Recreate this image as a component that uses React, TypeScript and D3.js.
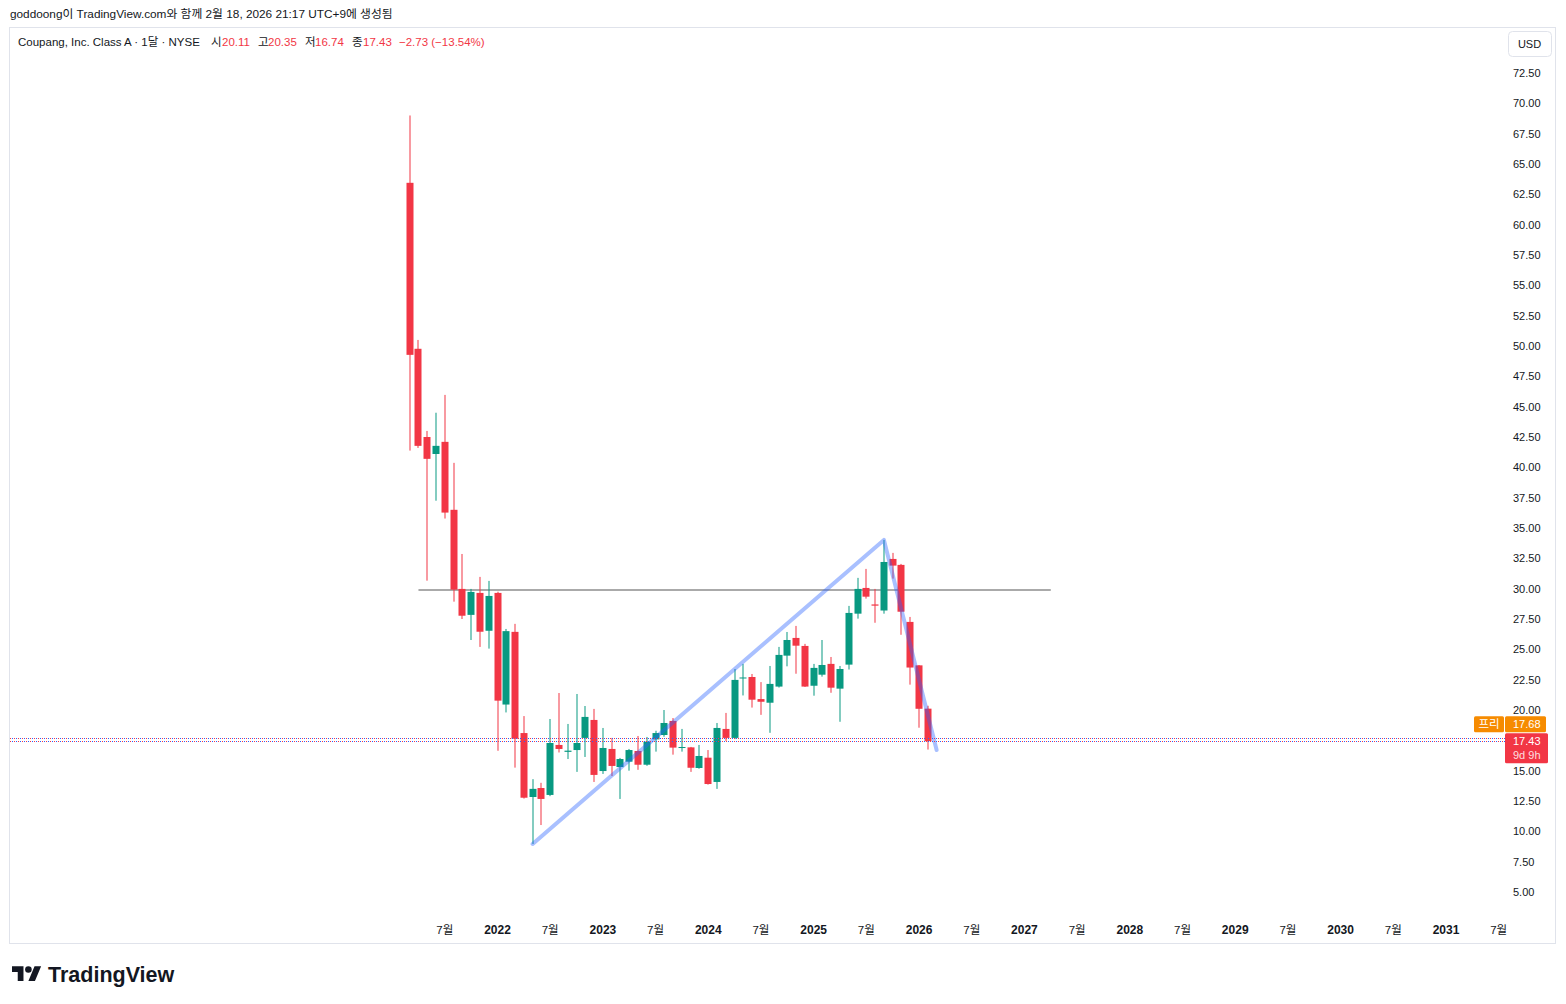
import React, { useEffect, useRef } from 'react';
import * as d3 from 'd3';

// 월봉 (2021-03 ~ 2026-02)
const months = [
  '2021-03', '2021-04', '2021-05', '2021-06', '2021-07', '2021-08', '2021-09', '2021-10', '2021-11', '2021-12',
  '2022-01', '2022-02', '2022-03', '2022-04', '2022-05', '2022-06', '2022-07', '2022-08', '2022-09', '2022-10', '2022-11', '2022-12',
  '2023-01', '2023-02', '2023-03', '2023-04', '2023-05', '2023-06', '2023-07', '2023-08', '2023-09', '2023-10', '2023-11', '2023-12',
  '2024-01', '2024-02', '2024-03', '2024-04', '2024-05', '2024-06', '2024-07', '2024-08', '2024-09', '2024-10', '2024-11', '2024-12',
  '2025-01', '2025-02', '2025-03', '2025-04', '2025-05', '2025-06', '2025-07', '2025-08', '2025-09', '2025-10', '2025-11', '2025-12',
  '2026-01', '2026-02',
];
const opens = [
  63.45, 49.77, 42.5, 41.1, 42.1, 36.5, 29.98, 27.84, 29.65, 26.53,
  29.65, 20.45, 26.44, 18.1, 12.83, 13.57, 13.0, 17.12, 16.55, 16.7, 17.7, 19.18,
  14.97, 16.79, 15.3, 15.74, 16.62, 15.49, 17.58, 17.94, 19.1, 16.88, 16.92, 15.22,
  16.07, 14.07, 18.44, 17.7, 22.6, 22.72, 20.9, 20.6, 21.93, 24.48, 25.94, 25.28,
  22.0, 22.91, 23.8, 21.76, 23.74, 27.94, 30.06, 28.7, 28.2, 32.45, 31.96, 27.26,
  23.68, 20.11,
];
const highs = [
  69.0, 50.5, 43.0, 44.5, 45.97, 40.37, 32.86, 29.98, 30.97, 30.64,
  29.75, 26.68, 27.1, 19.5, 14.3, 14.0, 19.26, 21.4, 18.85, 21.32, 20.33, 20.09,
  18.52, 17.7, 16.05, 16.79, 17.86, 17.78, 18.29, 20.0, 19.34, 18.44, 16.96, 17.12,
  16.7, 18.93, 19.76, 23.38, 23.8, 22.97, 22.3, 23.63, 25.2, 26.43, 26.93, 25.45,
  23.8, 25.77, 24.37, 23.63, 28.58, 30.89, 31.63, 29.98, 34.02, 32.95, 32.04, 27.67,
  23.71, 20.35,
];
const lows = [
  41.38, 41.6, 30.66, 37.25, 35.78, 28.93, 27.5, 25.77, 25.2, 25.06,
  16.64, 19.8, 15.25, 12.7, 8.96, 10.52, 12.9, 16.5, 15.96, 14.9, 16.13, 14.07,
  14.73, 14.56, 12.67, 15.0, 15.07, 15.4, 16.57, 17.8, 16.32, 16.57, 14.9, 15.16,
  13.85, 13.5, 17.45, 17.6, 21.2, 20.2, 19.6, 18.12, 21.85, 23.6, 22.99, 21.9,
  21.18, 22.75, 21.42, 19.03, 23.34, 27.53, 29.18, 27.19, 27.94, 30.83, 26.2, 22.09,
  18.54, 16.74,
];
const closes = [
  49.27, 41.77, 40.7, 41.77, 36.27, 29.92, 27.77, 29.73, 26.45, 29.4,
  20.77, 26.5, 17.63, 12.77, 13.5, 12.67, 17.28, 16.79, 16.65, 17.28, 19.43, 14.65,
  16.87, 15.39, 15.96, 16.7, 15.49, 17.39, 18.1, 18.93, 16.9, 16.95, 15.24, 16.21,
  13.9, 18.52, 17.7, 22.48, 22.68, 20.85, 20.68, 22.15, 24.54, 25.77, 25.3, 21.93,
  23.47, 23.71, 21.84, 23.38, 28.0, 29.98, 29.34, 28.6, 32.2, 31.9, 28.1, 23.5,
  20.1, 17.43,
];

// 드로잉: 추세선 / 수평선
const trendFrom = { month: '2022-05', price: 8.96 };
const trendPeak = { month: '2025-09', price: 34.02 };
const trendTo = { month: '2026-03', price: 16.7 };
const hLine = { from: '2021-04', to: '2027-04', price: 29.9 };

const lastPrice = 17.43;
const prePrice = 17.68;

const yTicks = d3.range(5, 72.5 + 0.001, 2.5);
const years = [2022, 2023, 2024, 2025, 2026, 2027, 2028, 2029, 2030, 2031];
const julyYears = [2021, 2022, 2023, 2024, 2025, 2026, 2027, 2028, 2029, 2030, 2031];

const RED = '#f23645';
const GREEN = '#089981';
const ORANGE = '#f68b00';
const TEXT = '#131722';
const FONT = "'Liberation Sans', Arial, 'Noto Sans CJK KR', sans-serif";

const monthIndex = (s: string) => {
  const [y, m] = s.split('-').map(Number);
  return (y - 2021) * 12 + (m - 1);
};

export default function App() {
  const svgRef = useRef<SVGSVGElement | null>(null);

  useEffect(() => {
    const svg = d3.select(svgRef.current);
    svg.selectAll('*').remove();

    const W = 1566;
    const H = 1004;
    const plotLeft = 10;
    const plotRight = 1505;

    const x = d3.scaleLinear().domain([12, 120]).range([497.5, 1446]);
    const y = d3.scaleLinear().domain([5, 72.5]).range([892, 73]);
    const bodyW = 7;

    svg.attr('width', W).attr('height', H).style('font-family', FONT);

    svg.append('rect').attr('width', W).attr('height', H).attr('fill', '#ffffff');

    // 상단 캡션
    svg.append('text')
      .attr('x', 10)
      .attr('y', 18)
      .attr('fill', TEXT)
      .style('font-size', '11.8px')
      .text('goddoong이 TradingView.com와 함께 2월 18, 2026 21:17 UTC+9에 생성됨');

    // 차트 프레임
    svg.append('rect')
      .attr('x', 9.5)
      .attr('y', 27.5)
      .attr('width', 1546)
      .attr('height', 916)
      .attr('fill', 'none')
      .attr('stroke', '#e0e3eb');

    // 타이틀 / OHLC
    const legend = [
      { t: 'Coupang, Inc. Class A · 1달 · NYSE', x: 18, c: TEXT },
      { t: '시', x: 211, c: TEXT },
      { t: '20.11', x: 222, c: RED },
      { t: '고', x: 258, c: TEXT },
      { t: '20.35', x: 268, c: RED },
      { t: '저', x: 305, c: TEXT },
      { t: '16.74', x: 315, c: RED },
      { t: '종', x: 352, c: TEXT },
      { t: '17.43', x: 363, c: RED },
      { t: '−2.73 (−13.54%)', x: 399, c: RED },
    ];
    svg.append('g').selectAll('text')
      .data(legend)
      .enter()
      .append('text')
      .attr('x', d => d.x)
      .attr('y', 46)
      .attr('fill', d => d.c)
      .style('font-size', '11.5px')
      .text(d => d.t);

    // USD 버튼
    svg.append('rect')
      .attr('x', 1508.5)
      .attr('y', 31.5)
      .attr('width', 43)
      .attr('height', 25)
      .attr('rx', 4)
      .attr('fill', '#ffffff')
      .attr('stroke', '#e0e3eb');
    svg.append('text')
      .attr('x', 1529.5)
      .attr('y', 48)
      .attr('text-anchor', 'middle')
      .attr('fill', TEXT)
      .style('font-size', '11px')
      .text('USD');

    // Y축 라벨
    svg.append('g').selectAll('text')
      .data(yTicks)
      .enter()
      .append('text')
      .attr('x', 1513)
      .attr('y', d => y(d))
      .attr('dy', '0.35em')
      .attr('fill', TEXT)
      .style('font-size', '11px')
      .text(d => d3.format('.2f')(d));

    // X축 라벨
    svg.append('g').selectAll('text')
      .data(julyYears)
      .enter()
      .append('text')
      .attr('x', d => x((d - 2021) * 12 + 6))
      .attr('y', 934)
      .attr('text-anchor', 'middle')
      .attr('fill', TEXT)
      .style('font-size', '11.5px')
      .text('7월');
    svg.append('g').selectAll('text')
      .data(years)
      .enter()
      .append('text')
      .attr('x', d => x((d - 2021) * 12))
      .attr('y', 934)
      .attr('text-anchor', 'middle')
      .attr('fill', TEXT)
      .style('font-size', '12px')
      .style('font-weight', 'bold')
      .text(d => d);

    // 수평선
    svg.append('line')
      .attr('x1', x(monthIndex(hLine.from)))
      .attr('x2', x(monthIndex(hLine.to)))
      .attr('y1', y(hLine.price))
      .attr('y2', y(hLine.price))
      .attr('stroke', '#aaaaaa')
      .attr('stroke-width', 2);

    // 캔들
    const candles = months.map((m, i) => ({
      i: monthIndex(m), o: opens[i], h: highs[i], l: lows[i], c: closes[i],
    }));
    const g = svg.append('g');
    const cg = g.selectAll('g')
      .data(candles)
      .enter()
      .append('g')
      .attr('fill', d => (d.c >= d.o ? GREEN : RED));
    cg.append('rect')
      .attr('x', d => Math.round(x(d.i)) - 0.5)
      .attr('width', 1)
      .attr('y', d => y(d.h))
      .attr('height', d => y(d.l) - y(d.h));
    cg.append('rect')
      .attr('x', d => Math.round(x(d.i)) - bodyW / 2)
      .attr('width', bodyW)
      .attr('y', d => y(Math.max(d.o, d.c)))
      .attr('height', d => Math.max(1, Math.abs(y(d.o) - y(d.c))));

    // 추세선
    const trend = [trendFrom, trendPeak, trendTo];
    svg.append('path')
      .attr('d', d3.line<{ month: string; price: number }>()
        .x(d => x(monthIndex(d.month)))
        .y(d => y(d.price))(trend))
      .attr('fill', 'none')
      .attr('stroke', '#2962ff')
      .attr('stroke-opacity', 0.4)
      .attr('stroke-width', 4)
      .attr('stroke-linejoin', 'round')
      .attr('stroke-linecap', 'round');

    // 현재가 / 프리마켓 점선
    [prePrice, lastPrice].forEach(p => {
      const yy = Math.round(y(p)) + 0.5;
      svg.append('line')
        .attr('x1', plotLeft).attr('x2', plotRight)
        .attr('y1', yy).attr('y2', yy)
        .attr('stroke', RED)
        .attr('stroke-width', 1)
        .attr('stroke-dasharray', '1 3');
      svg.append('line')
        .attr('x1', plotLeft + 2).attr('x2', plotRight)
        .attr('y1', yy).attr('y2', yy)
        .attr('stroke', '#2962ff')
        .attr('stroke-width', 1)
        .attr('stroke-dasharray', '1 3');
    });

    // 가격 라벨 (현재가 라벨 위로 밀린 프리마켓 라벨)
    const lastY = y(lastPrice);
    const preCenter = lastY - 17;
    svg.append('rect')
      .attr('x', 1474).attr('y', preCenter - 8)
      .attr('width', 30).attr('height', 16).attr('rx', 1.5)
      .attr('fill', ORANGE);
    svg.append('text')
      .attr('x', 1489).attr('y', preCenter)
      .attr('dy', '0.35em')
      .attr('text-anchor', 'middle')
      .attr('fill', '#ffffff')
      .style('font-size', '11.5px')
      .text('프리');
    svg.append('rect')
      .attr('x', 1505).attr('y', preCenter - 8)
      .attr('width', 41).attr('height', 16).attr('rx', 1.5)
      .attr('fill', ORANGE);
    svg.append('text')
      .attr('x', 1513).attr('y', preCenter)
      .attr('dy', '0.35em')
      .attr('fill', '#ffffff')
      .style('font-size', '11px')
      .text(d3.format('.2f')(prePrice));

    svg.append('rect')
      .attr('x', 1505).attr('y', lastY - 8)
      .attr('width', 43).attr('height', 30).attr('rx', 1.5)
      .attr('fill', RED);
    svg.append('text')
      .attr('x', 1513).attr('y', lastY)
      .attr('dy', '0.35em')
      .attr('fill', '#ffffff')
      .style('font-size', '11px')
      .text(d3.format('.2f')(lastPrice));
    svg.append('text')
      .attr('x', 1513).attr('y', lastY + 14)
      .attr('dy', '0.35em')
      .attr('fill', '#ffffff')
      .attr('fill-opacity', 0.85)
      .style('font-size', '11px')
      .text('9d 9h');

    // TradingView 로고
    const logo = svg.append('g')
      .attr('transform', 'translate(12,963) scale(0.82)')
      .attr('fill', TEXT);
    logo.append('path').attr('d', 'M14 22H7V11H0V4h14v18zM28 22h-8l7.5-18h8L28 22z');
    logo.append('circle').attr('cx', 20).attr('cy', 8).attr('r', 4);
    svg.append('text')
      .attr('x', 48)
      .attr('y', 982)
      .attr('fill', TEXT)
      .style('font-size', '21.5px')
      .style('font-weight', 'bold')
      .text('TradingView');
  }, []);

  return (
    <div style={{ position: 'absolute', left: 0, top: 0 }}>
      <svg ref={svgRef}></svg>
    </div>
  );
}
